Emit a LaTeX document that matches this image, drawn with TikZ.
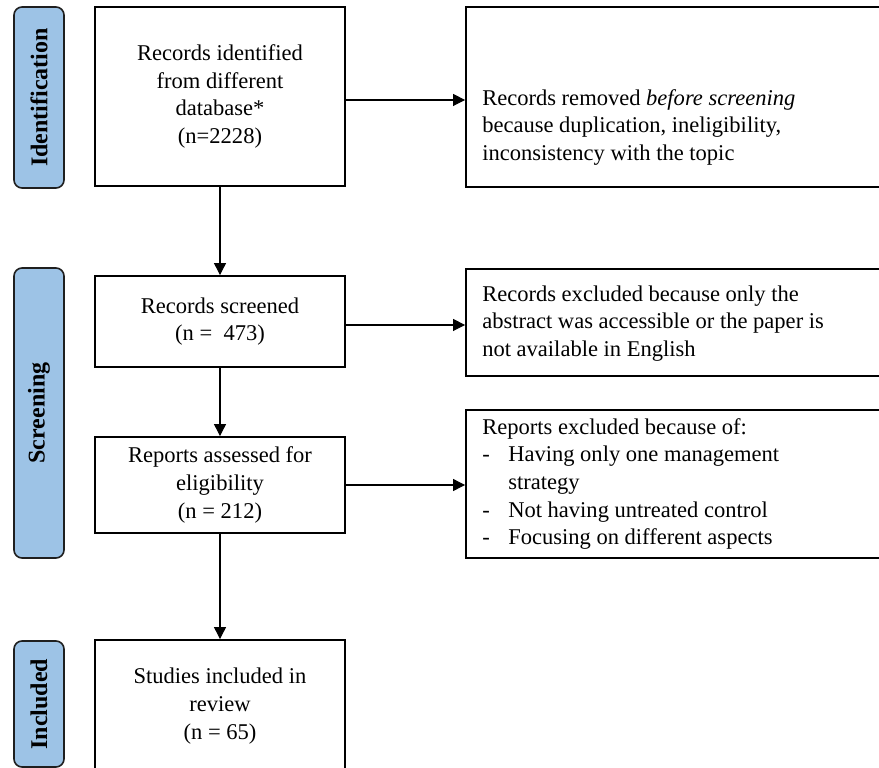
\documentclass[tikz,border=0pt]{standalone}
\usepackage{fontspec}
\setmainfont{Liberation Serif}
\usetikzlibrary{arrows.meta}
\definecolor{phase}{HTML}{9DC3E6}
\definecolor{phaseline}{HTML}{1F1F1F}
\begin{document}
\begin{tikzpicture}[x=0.75pt,y=-0.75pt,
  box/.style={draw=black, line width=1.4pt, fill=white, inner sep=0pt, align=center,
    font=\fontsize{16.9}{20.7}\selectfont, minimum width=187.5pt},
  side/.style={draw=black, line width=1.4pt, inner sep=0pt},
  txt/.style={inner sep=0pt, align=left, font=\fontsize{16.9}{20.7}\selectfont},
  phasebox/.style={draw=phaseline, fill=phase, line width=1.2pt, rounded corners=6pt,
    rotate=90, minimum height=37.5pt, inner sep=0pt,
    font=\fontsize{18}{20}\selectfont\bfseries},
  arr/.style={line width=0.8pt, -{Triangle[length=9pt,width=9pt]}}]
\useasboundingbox (0,0) rectangle (879,768);
\clip (0,0) rectangle (879,768);
% phase labels
\node[phasebox, minimum width=135.75pt] (s1) at (39,97.5) {Identification};
\node[phasebox, minimum width=217.5pt] (s2) at (39,413) {Screening};
\node[phasebox, minimum width=94.5pt] (s3) at (39,704) {Included};
% main column
\node[box, minimum height=134.25pt] (b1) at (220,96.5) {Records identified\\from different\\database*\\(n=2228)};
\node[box, minimum height=68.25pt] (b2) at (220,321.5) {Records screened\\(n =\ \ 473)};
\node[box, minimum height=72pt] (b3) at (220,485) {Reports assessed for\\eligibility\\(n = 212)};
\node[box, minimum height=99pt] (b4) at (220,706) {Studies included in\\review\\(n = 65)};
% right column
\node[side, minimum width=333pt, minimum height=135pt] (r1) at (688,97) {};
\node[side, minimum width=333pt, minimum height=80.25pt] (r2) at (688,322.5) {};
\node[side, minimum width=333pt, minimum height=111pt] (r3) at (688,484) {};
\node[txt, anchor=north west] (t1) at (482,89) {Records removed \textit{before screening}\\because duplication, ineligibility,\\inconsistency with the topic};
\node[txt, anchor=west] (t2) at (482,323.5) {Records excluded because only the\\abstract was accessible or the paper is\\not available in English};
\node[txt, anchor=west] (t3) at (482,484) {Reports excluded because of:\\\makebox[19.5pt][l]{-}Having only one management\\\hspace*{19.5pt}strategy\\\makebox[19.5pt][l]{-}Not having untreated control\\\makebox[19.5pt][l]{-}Focusing on different aspects};
% connectors
\draw[arr] (b1) -- (b2);
\draw[arr] (b2) -- (b3);
\draw[arr] (b3) -- (b4);
\draw[arr] ([yshift=-2.6pt]b1.east) -- ([yshift=-2.6pt]b1.east -| r1.west);
\draw[arr] ([yshift=-2.6pt]b2.east) -- ([yshift=-2.6pt]b2.east -| r2.west);
\draw[arr] (b3.east) -- (b3.east -| r3.west);
\end{tikzpicture}
\end{document}
